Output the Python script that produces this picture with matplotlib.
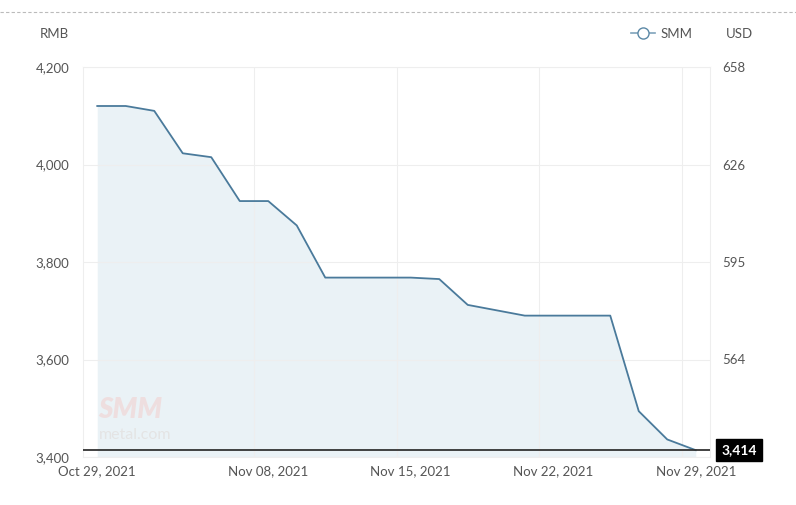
import numpy as np
import matplotlib
matplotlib.use('Agg')
import matplotlib.pyplot as plt
from matplotlib.lines import Line2D

plt.rcParams['font.family'] = ['Lato', 'DejaVu Sans']

# trading days Oct 29 - Nov 29, 2021
dates = ['Oct 29', 'Nov 01', 'Nov 02', 'Nov 03', 'Nov 04', 'Nov 05',
         'Nov 08', 'Nov 09', 'Nov 10', 'Nov 11', 'Nov 12',
         'Nov 15', 'Nov 16', 'Nov 17', 'Nov 18', 'Nov 19',
         'Nov 22', 'Nov 23', 'Nov 24', 'Nov 25', 'Nov 26',
         'Nov 29']
prices = [4120, 4120, 4110, 4023, 4015, 3925,
          3925, 3875, 3768, 3768, 3768,
          3768, 3765, 3712, 3701, 3690,
          3690, 3690, 3690, 3494, 3436,
          3414]
tick_idx = [0, 6, 11, 16, 21]
tick_labels = ['Oct 29, 2021', 'Nov 08, 2021', 'Nov 15, 2021',
               'Nov 22, 2021', 'Nov 29, 2021']
rmb_ticks = [3400, 3600, 3800, 4000, 4200]
usd_ticks = [564, 595, 626, 658]
last_price = prices[-1]

LINE = '#4a7a9b'
FILL = '#eaf2f6'
TXT = '#555555'
GRID = '#eeeeee'

fig = plt.figure(figsize=(7.96, 5.05), dpi=100)
ax = fig.add_axes([83 / 796, 48 / 505, 627 / 796, 390 / 505])

x = np.arange(len(prices))
ax.fill_between(x, prices, rmb_ticks[0], color=FILL, lw=0, zorder=1)
ax.plot(x, prices, color=LINE, lw=1.3, zorder=3)
ax.axhline(last_price, color='#333333', lw=1.3, zorder=4)

ax.set_xlim(-0.5, len(prices) - 0.5)
ax.set_ylim(rmb_ticks[0], rmb_ticks[-1])

ax.set_yticks(rmb_ticks)
ax.set_yticklabels([f'{v:,}' for v in rmb_ticks])
ax.set_xticks(tick_idx)
ax.set_xticklabels(tick_labels)
# category boundaries just before each labelled day
ax.set_xticks([i - 0.5 for i in tick_idx[1:]], minor=True)
ax.grid(False)
ax.grid(True, which='minor', axis='x', color=GRID, lw=0.8, zorder=0)
ax.grid(True, which='major', axis='y', color=GRID, lw=0.8, zorder=0)
ax.tick_params(axis='both', which='both', length=0, colors=TXT, labelsize=9.5)
ax.tick_params(axis='x', pad=6)
ax.tick_params(axis='y', pad=10)
for s in ax.spines.values():
    s.set_color(GRID)
    s.set_linewidth(0.8)

ax2 = ax.twinx()
ax2.set_ylim(ax.get_ylim())
ax2.set_yticks(rmb_ticks[1:])
ax2.set_yticklabels([str(v) for v in usd_ticks])
ax2.tick_params(axis='y', length=0, colors=TXT, labelsize=9.5, pad=9)
for s in ax2.spines.values():
    s.set_visible(False)

# last value tag
ax.annotate(f'{last_price:,}', xy=(1, last_price), xycoords=('axes fraction', 'data'),
            xytext=(8, 0), textcoords='offset points', ha='left', va='center',
            color='white', fontsize=10, fontweight='bold',
            bbox=dict(boxstyle='square,pad=0.38', fc='black', ec='black'), zorder=5)

# watermark
ax.text(0.025, 0.1, 'SMM', transform=ax.transAxes, fontsize=20, fontweight='heavy',
        fontstyle='italic', color='#f0d8d8', alpha=0.75, zorder=2)
ax.text(0.025, 0.045, 'metal.com', transform=ax.transAxes, fontsize=11.5,
        color='#e4e4e4', zorder=2)

# header
fig.add_artist(Line2D([0.0, 1.0], [1 - 12 / 505, 1 - 12 / 505], color='#bbbbbb',
                      lw=0.8, ls=(0, (3, 2))))
fig.text(40 / 796, 1 - 34 / 505, 'RMB', color=TXT, fontsize=9.5, va='center')
fig.text(726 / 796, 1 - 34 / 505, 'USD', color=TXT, fontsize=9.5, va='center')
fig.legend(handles=[Line2D([0], [0], color='#7fa3bb', lw=1.2, marker='o', markersize=8,
                           markerfacecolor='white', markeredgecolor='#5b88a6')],
           labels=['SMM'], loc='center right', bbox_to_anchor=(704 / 796, 1 - 34 / 505),
           frameon=False, fontsize=9.5, handlelength=1.8, handletextpad=0.4,
           labelcolor=TXT)

fig.savefig('out.png', dpi=100)
